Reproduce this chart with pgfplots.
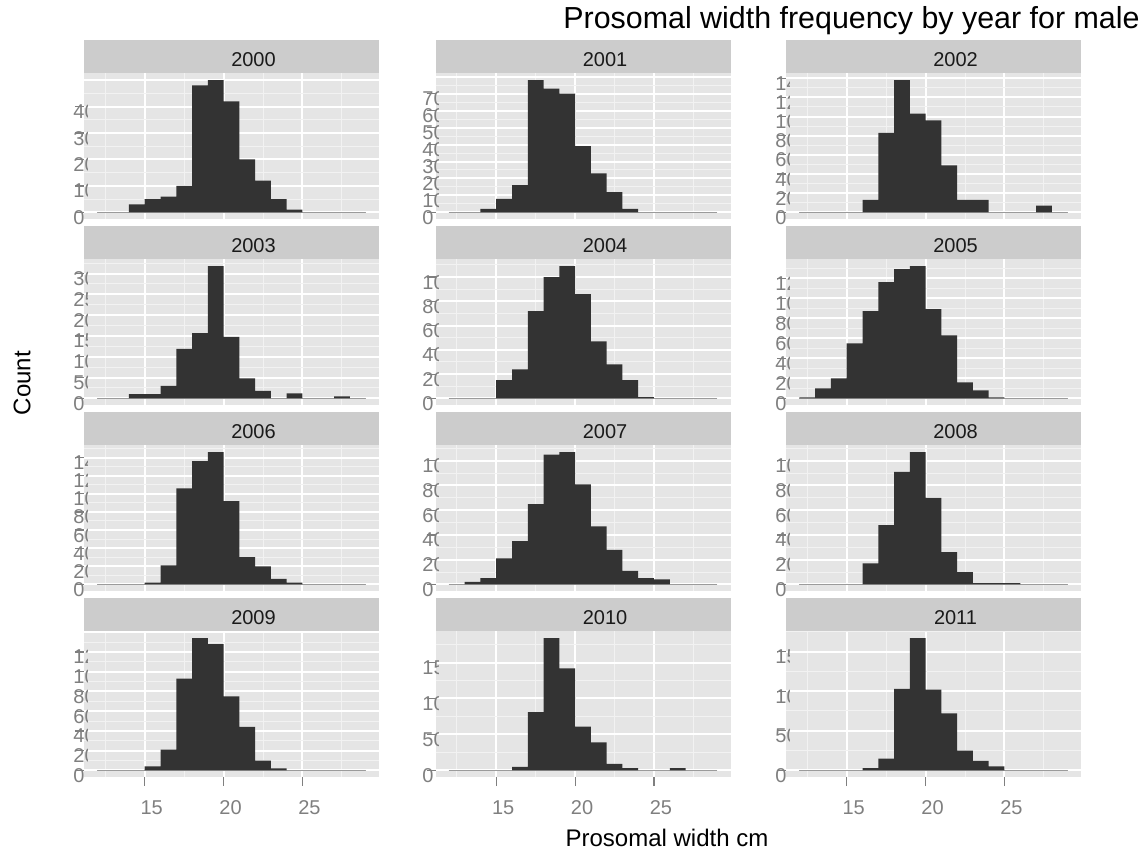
\documentclass[border=0pt]{standalone}
\usepackage{fontspec}
\setmainfont{Liberation Sans}
\usepackage{trimclip}
\usepackage{pgfplots}
\usepackage{pgfplotstable}
\pgfplotsset{compat=1.18}

\definecolor{panelbg}{HTML}{E5E5E5}
\definecolor{gridminor}{HTML}{F2F2F2}
\definecolor{stripbg}{HTML}{CCCCCC}
\definecolor{barfill}{HTML}{333333}
\definecolor{tickgrey}{HTML}{7F7F7F}
\definecolor{zeroline}{HTML}{ABABAB}
\definecolor{striptext}{HTML}{1A1A1A}

% counts per 1 cm bin, bin starts at x (last row closes the interval)
\pgfplotstableread{
x  y2000 y2001 y2002 y2003 y2004 y2005 y2006 y2007 y2008 y2009 y2010 y2011
12 0  0  0   0   0   1   0   0   0   0   0   0
13 0  0  0   0   0   10  0   2   0   0   0   0
14 3  2  0   10  0   20  0   5   0   0   0   0
15 5  8  0   10  15  55  2   21  0   4   0   0
16 6  16 13  30  24  87  21  35  17  21  5   3
17 10 78 83  119 72  116 106 65  48  93  81  15
18 48 73 138 157 100 129 136 105 91  134 184 103
19 50 70 103 318 109 132 146 107 107 128 142 167
20 42 39 96  148 86  89  92  81  70  75  61  102
21 20 23 49  48  47  63  30  47  26  44  39  72
22 12 12 13  18  28  16  20  28  10  10  9   25
23 5  2  13  0   15  8   6   11  1   2   3   12
24 1  0  0   12  1   1   2   5   1   0   0   5
25 0  0  0   0   0   0   0   4   1   0   0   0
26 0  0  0   0   0   0   0   0   0   0   3   0
27 0  0  7   5   0   0   0   0   0   0   0   0
28 0  0  0   0   0   0   0   0   0   0   0   0
29 0  0  0   0   0   0   0   0   0   0   0   0
}\hist

% y labels run under the panel in the original, so only their left part shows
\newcommand\cutlabel[1]{\clipbox*{0pt -3pt #1 10pt}{\pgfmathprintnumber{\tick}}}

\pgfplotsset{
  panel/.style={
    scale only axis, width=147.5pt, height=72.75pt,
    anchor=south west,
    xmin=11.15, xmax=29.85,
    xtick={15,20,25}, minor xtick={12.5,17.5,22.5,27.5},
    tick pos=left,
    grid=both,
    major grid style={white, line width=1pt},
    minor grid style={gridminor, line width=0.5pt},
    axis background/.style={fill=panelbg},
    axis line style={draw=none},
    tick align=outside, major tick length=4.5pt, minor tick length=0pt,
    tick style={draw=tickgrey, line width=0.6pt},
    /pgf/number format/assume math mode=true,
    yticklabel={\cutlabel{7pt}},
    yticklabel style={anchor=west, inner sep=0pt, xshift=-1pt, yshift=-2.5pt,
      font=\fontsize{10}{12}\selectfont, text=tickgrey},
    xticklabel style={anchor=north, inner sep=0pt, xshift=3.5pt, yshift=-7pt,
      font=\fontsize{10}{12}\selectfont, text=tickgrey},
    extra y tick labels={},
    extra y tick style={major tick length=0pt},
    extra description/.code={
      \fill[stripbg] (0,1) rectangle ([yshift=16.75pt]1,1);
      \node[font=\fontsize{10}{12}\selectfont, text=striptext, inner sep=0pt]
        at ([xshift=11pt, yshift=6.9pt]0.5,1) {#1};
      \draw[tickgrey, line width=0.6pt] (axis cs:11.15,0) -- ++(-4.5pt,0);
    },
  },
  col2/.style={yticklabel={\cutlabel{8.25pt}}, yticklabel style={xshift=-1.25pt}},
  upper/.style={xticklabels={}, xtick style={draw=none}},
  bottom/.style={extra description/.append code={
      \foreach \t in {15,20,25}
        \draw[tickgrey, line width=0.6pt] ({axis cs:\t,0} |- {axis description cs:0,0}) -- ++(0,-4.5pt);
    }},
  zero/.style={zeroline, line width=0.6pt},
  hist/.style={ybar interval, fill=barfill, draw=none},
}

\begin{document}
\begin{tikzpicture}

% row 1
\begin{axis}[panel={2000}, upper, at={(42pt,319pt)}, ymin=-2.5, ymax=52.5,
  ytick={0,10,...,40}, extra y ticks={50}, minor ytick={5,15,...,45}]
  \addplot[zero] coordinates {(12,0) (29,0)};
  \addplot[hist] table[x=x, y=y2000] {\hist};
\end{axis}
\begin{axis}[panel={2001}, upper, col2, at={(217.75pt,319pt)}, ymin=-3.9, ymax=81.9,
  ytick={0,10,...,70}, extra y ticks={80}, minor ytick={5,15,...,75}]
  \addplot[zero] coordinates {(12,0) (29,0)};
  \addplot[hist] table[x=x, y=y2001] {\hist};
\end{axis}
\begin{axis}[panel={2002}, upper, at={(393pt,319pt)}, ymin=-6.9, ymax=144.9,
  ytick={0,20,...,140}, minor ytick={10,30,...,130}]
  \addplot[zero] coordinates {(12,0) (29,0)};
  \addplot[hist] table[x=x, y=y2002] {\hist};
\end{axis}

% row 2
\begin{axis}[panel={2003}, upper, at={(42pt,226pt)}, ymin=-15.9, ymax=333.9,
  ytick={0,50,...,300}, minor ytick={25,75,...,325}]
  \addplot[zero] coordinates {(12,0) (29,0)};
  \addplot[hist] table[x=x, y=y2003] {\hist};
\end{axis}
\begin{axis}[panel={2004}, upper, col2, at={(217.75pt,226pt)}, ymin=-5.45, ymax=114.45,
  ytick={0,20,...,100}, minor ytick={10,30,...,110}]
  \addplot[zero] coordinates {(12,0) (29,0)};
  \addplot[hist] table[x=x, y=y2004] {\hist};
\end{axis}
\begin{axis}[panel={2005}, upper, at={(393pt,226pt)}, ymin=-6.6, ymax=138.6,
  ytick={0,20,...,120}, minor ytick={10,30,...,130}]
  \addplot[zero] coordinates {(12,0) (29,0)};
  \addplot[hist] table[x=x, y=y2005] {\hist};
\end{axis}

% row 3
\begin{axis}[panel={2006}, upper, at={(42pt,133pt)}, ymin=-7.3, ymax=153.3,
  ytick={0,20,...,140}, minor ytick={10,30,...,150}]
  \addplot[zero] coordinates {(12,0) (29,0)};
  \addplot[hist] table[x=x, y=y2006] {\hist};
\end{axis}
\begin{axis}[panel={2007}, upper, col2, at={(217.75pt,133pt)}, ymin=-5.35, ymax=112.35,
  ytick={0,20,...,100}, minor ytick={10,30,...,110}]
  \addplot[zero] coordinates {(12,0) (29,0)};
  \addplot[hist] table[x=x, y=y2007] {\hist};
\end{axis}
\begin{axis}[panel={2008}, upper, at={(393pt,133pt)}, ymin=-5.35, ymax=112.35,
  ytick={0,20,...,100}, minor ytick={10,30,...,110}]
  \addplot[zero] coordinates {(12,0) (29,0)};
  \addplot[hist] table[x=x, y=y2008] {\hist};
\end{axis}

% row 4
\begin{axis}[panel={2009}, bottom, at={(42pt,40pt)}, ymin=-6.7, ymax=140.7,
  ytick={0,20,...,120}, extra y ticks={140}, minor ytick={10,30,...,130}]
  \addplot[zero] coordinates {(12,0) (29,0)};
  \addplot[hist] table[x=x, y=y2009] {\hist};
\end{axis}
\begin{axis}[panel={2010}, bottom, col2, at={(217.75pt,40pt)}, ymin=-9.2, ymax=193.2,
  ytick={0,50,...,150}, minor ytick={25,75,...,175}]
  \addplot[zero] coordinates {(12,0) (29,0)};
  \addplot[hist] table[x=x, y=y2010] {\hist};
\end{axis}
\begin{axis}[panel={2011}, bottom, at={(393pt,40pt)}, ymin=-8.35, ymax=175.35,
  ytick={0,50,...,150}, minor ytick={25,75,...,175}]
  \addplot[zero] coordinates {(12,0) (29,0)};
  \addplot[hist] table[x=x, y=y2011] {\hist};
\end{axis}

\node[anchor=base east, font=\fontsize{15.2}{18}\selectfont, inner sep=0pt]
  at (570pt,414pt) {Prosomal width frequency by year for male};
\node[rotate=90, font=\fontsize{12}{14}\selectfont, inner sep=0pt]
  at (11pt,237pt) {Count};
\node[anchor=base, font=\fontsize{12}{14}\selectfont, inner sep=0pt]
  at (333.5pt,5.2pt) {Prosomal width cm};

\pgfresetboundingbox
\path[use as bounding box] (0,0) rectangle (573pt,428.5pt);
\end{tikzpicture}
\end{document}
